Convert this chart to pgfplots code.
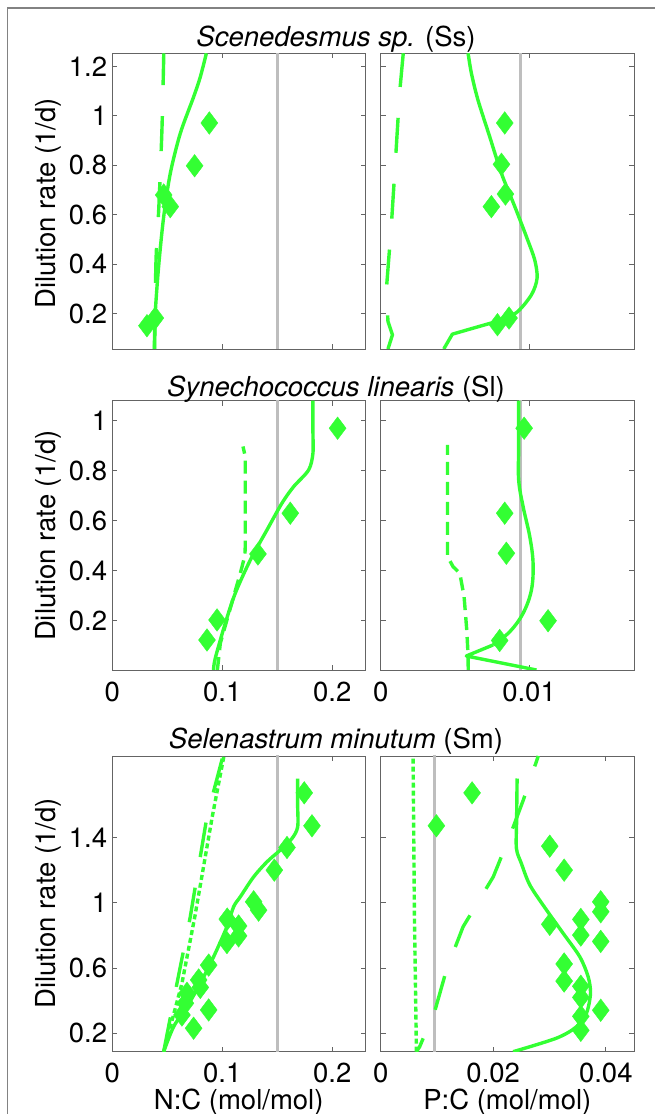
\documentclass[border=0pt]{standalone}
\usepackage{fontspec}
\setmainfont{TeX Gyre Heros}
\usepackage{pgfplots}
\pgfplotsset{compat=1.18}
\definecolor{grn}{RGB}{51,255,51}
\definecolor{gry}{RGB}{190,190,190}
\definecolor{frm}{RGB}{100,100,100}
\newcommand{\fs}{\fontsize{27.5}{33}\selectfont}
\pgfplotsset{
  panel/.style={
    scale only axis, anchor=south west, width=253.4pt,
    scaled ticks=false,
    axis line style={draw=frm, line width=0.9pt},
    tick style={draw=frm, line width=0.9pt},
    major tick length=5pt, tick align=inside,
    ticklabel style={font=\fs},
    yticklabel style={anchor=east, inner sep=0pt, xshift=-5pt},
    xticklabel style={anchor=north, inner sep=0pt, yshift=-11.5pt},
  },
  sol/.style={grn, line width=3.4pt, line join=round},
  lda/.style={grn, line width=3.4pt, dash pattern=on 35pt off 31pt},
  sda/.style={grn, line width=3.4pt, dash pattern=on 13pt off 7pt},
  dot/.style={grn, line width=3.4pt, dash pattern=on 5pt off 3pt},
  gl/.style={gry, line width=3pt},
  dia/.style={only marks, mark=diamond*, mark size=11.3pt, mark options={fill=grn, draw=grn, line width=0.4pt}},
}
\begin{document}
\begin{tikzpicture}[font=\fs]
\useasboundingbox (0pt,0pt) rectangle (655pt,1114pt);
\draw[draw={rgb,255:red,130;green,130;blue,130}, line width=1.2pt] (7.3pt,-20pt) -- (7.3pt,1106pt) -- (680pt,1106pt);

% ---------- Row 1: Scenedesmus ----------
\begin{axis}[panel, at={(112.3pt,765pt)}, height=295.7pt,
  xmin=0, xmax=0.23036, ymin=0.058, ymax=1.2525,
  xtick={0,0.1,0.2}, xticklabels={},
  ytick={0.2,0.4,0.6,0.8,1,1.2}, yticklabels={0.2,0.4,0.6,0.8,1,1.2}]
\addplot[gl] coordinates {(0.15,0) (0.15,2)};
\addplot[lda, smooth] coordinates {(0.0385,0.058) (0.0397,0.411) (0.0424,0.64) (0.0452,0.955) (0.0468,1.2525)};
\addplot[sol, smooth] coordinates {(0.0382,0.058) (0.039,0.2) (0.0421,0.391) (0.0467,0.592) (0.0527,0.767) (0.0618,0.929) (0.0739,1.076) (0.08,1.157) (0.0855,1.2525)};
\addplot[dia] coordinates {(0.0882,0.971) (0.0748,0.798) (0.0467,0.68) (0.0527,0.633) (0.0391,0.183) (0.0315,0.152)};
\end{axis}
\begin{axis}[panel, at={(380.7pt,765pt)}, height=295.7pt,
  xmin=0, xmax=0.01708, ymin=0.058, ymax=1.2525,
  xtick={0,0.01}, xticklabels={},
  ytick={0.2,0.4,0.6,0.8,1,1.2}, yticklabels={}]
\addplot[gl] coordinates {(0.00944,0) (0.00944,2)};
\addplot[lda] coordinates {(0.00049,0.058) (0.00079,0.115) (0.00049,0.169) (0.00038,0.297) (0.00072,0.559) (0.00101,0.834) (0.00128,1.096) (0.00152,1.2525)};
\addplot[sol] coordinates {(0.00425,0.058) (0.00483,0.118) (0.0078,0.169)};
\addplot[sol, smooth] coordinates {(0.0078,0.169) (0.00915,0.205) (0.01016,0.277) (0.01054,0.344) (0.01038,0.418) (0.00982,0.512) (0.00904,0.633) (0.00814,0.767) (0.00735,0.915) (0.00656,1.063) (0.00612,1.17) (0.00589,1.2525)};
\addplot[dia] coordinates {(0.00836,0.971) (0.00814,0.804) (0.00841,0.684) (0.00746,0.633) (0.00865,0.183) (0.00787,0.156)};
\end{axis}
\node[anchor=base] at (336pt,1067.3pt) {\textit{Scenedesmus sp.} (Ss)};
\node[rotate=90, anchor=base] at (55pt,910.5pt) {Dilution rate (1/d)};

% ---------- Row 2: Synechococcus ----------
\begin{axis}[panel, at={(112.3pt,444pt)}, height=269.3pt,
  xmin=0, xmax=0.23036, ymin=0.003, ymax=1.08,
  xtick={0,0.1,0.2}, xticklabels={0,0.1,0.2},
  ytick={0.2,0.4,0.6,0.8,1}, yticklabels={0.2,0.4,0.6,0.8,1}]
\addplot[gl] coordinates {(0.15,-1) (0.15,2)};
\addplot[sda] coordinates {(0.0955,0.003) (0.0982,0.11) (0.1042,0.203) (0.1103,0.297) (0.1164,0.39) (0.1205,0.46) (0.1209,0.5) (0.1209,0.856) (0.1188,0.897)};
\addplot[sol, smooth, tension=0.5] coordinates {(0.0920,0.003) (0.0936,0.05) (0.1027,0.19) (0.1118,0.31) (0.1255,0.443) (0.1406,0.563) (0.1542,0.67) (0.1648,0.736) (0.1785,0.803) (0.1824,0.87) (0.1824,0.95) (0.1824,1.08)};
\addplot[dia] coordinates {(0.1618,0.63) (0.1324,0.467) (0.0952,0.203) (0.0861,0.123) (0.2048,0.97)};
\end{axis}
\begin{axis}[panel, at={(380.7pt,444pt)}, height=269.3pt,
  xmin=0, xmax=0.01708, ymin=0.003, ymax=1.08,
  xtick={0,0.01}, xticklabels={0,0.01},
  ytick={0.2,0.4,0.6,0.8,1}, yticklabels={}]
\addplot[gl] coordinates {(0.00944,-1) (0.00944,2)};
\addplot[sda] coordinates {(0.0059,0.003) (0.00589,0.063) (0.0058,0.163) (0.00562,0.297) (0.00533,0.39) (0.00488,0.416) (0.0045,0.457) (0.0045,0.903)};
\addplot[sol] coordinates {(0.0105,0.003) (0.00577,0.059) (0.00757,0.103)};
\addplot[sol, smooth, tension=0.6] coordinates {(0.00757,0.103) (0.0087,0.156) (0.0096,0.23) (0.01016,0.323) (0.01027,0.43) (0.01005,0.536) (0.0096,0.656) (0.0093,0.763) (0.0093,0.9) (0.0093,1.08)};
\addplot[dia] coordinates {(0.00967,0.97) (0.00836,0.63) (0.00847,0.47) (0.01128,0.2) (0.00802,0.121)};
\end{axis}
\node[anchor=base] at (336pt,717.3pt) {\textit{Synechococcus linearis} (Sl)};
\node[rotate=90, anchor=base] at (55pt,578.3pt) {Dilution rate (1/d)};

% ---------- Row 3: Selenastrum ----------
\begin{axis}[panel, at={(112.3pt,62.3pt)}, height=295.7pt,
  xmin=0, xmax=0.23036, ymin=0.087, ymax=1.9,
  xtick={0,0.1,0.2}, xticklabels={0,0.1,0.2},
  ytick={0.2,0.6,1,1.4}, yticklabels={0.2,0.6,1,1.4}]
\addplot[gl] coordinates {(0.15,-1) (0.15,3)};
\addplot[lda] coordinates {(0.0467,0.087) (0.0588,0.506) (0.0709,0.914) (0.0861,1.529) (0.1006,1.9)};
\addplot[dot] coordinates {(0.0467,0.087) (0.0633,0.506) (0.0750,0.914) (0.0909,1.529) (0.1015,1.9)};
\addplot[sol, smooth] coordinates {(0.0467,0.087) (0.0558,0.241) (0.0679,0.363) (0.08,0.506) (0.0921,0.669) (0.1042,0.853) (0.1103,0.976) (0.1164,1.037) (0.1285,1.159) (0.1406,1.251) (0.1527,1.323) (0.1633,1.394) (0.1685,1.465) (0.1685,1.6) (0.1685,1.762)};
\addplot[dia] coordinates {(0.1745,1.674) (0.1815,1.472) (0.1588,1.339) (0.1473,1.2) (0.1285,1.006) (0.133,0.955) (0.1045,0.9) (0.1148,0.858) (0.1148,0.797) (0.1042,0.756) (0.0876,0.618) (0.0785,0.527) (0.08,0.481) (0.0679,0.445) (0.0664,0.384) (0.0876,0.343) (0.0633,0.312) (0.0739,0.231)};
\end{axis}
\begin{axis}[panel, at={(380.7pt,62.3pt)}, height=295.7pt,
  xmin=0, xmax=0.04503, ymin=0.087, ymax=1.9,
  xtick={0,0.02,0.04}, xticklabels={0,0.02,0.04},
  ytick={0.2,0.6,1,1.4}, yticklabels={}]
\addplot[gl] coordinates {(0.00948,-1) (0.00948,3)};
\addplot[dot] coordinates {(0.00635,0.087) (0.006,0.9) (0.00575,1.9)};
\addplot[lda, dash phase=20pt] coordinates {(0.00635,0.087) (0.00693,0.118) (0.00967,0.343) (0.01168,0.588) (0.01464,0.853) (0.02,1.159) (0.02323,1.435) (0.02533,1.629) (0.028,1.9)};
\addplot[sol, smooth, tension=0.5] coordinates {(0.02353,0.087) (0.03124,0.17) (0.03479,0.24) (0.03657,0.323) (0.03728,0.445) (0.03686,0.547) (0.03538,0.669) (0.03244,0.812) (0.02948,0.955) (0.02652,1.108) (0.025,1.241) (0.02412,1.333) (0.02415,1.5) (0.02424,1.762)};
\addplot[dia] coordinates {(0.01624,1.674) (0.0099,1.472) (0.03004,1.347) (0.0326,1.2) (0.0391,1.006) (0.0391,0.945) (0.03004,0.868) (0.03556,0.898) (0.03556,0.802) (0.0391,0.763) (0.0326,0.625) (0.0326,0.52) (0.03556,0.488) (0.03556,0.42) (0.0391,0.341) (0.03556,0.304) (0.03556,0.218)};
\end{axis}
\node[anchor=base] at (336pt,365pt) {\textit{Selenastrum minutum} (Sm)};
\node[rotate=90, anchor=base] at (55pt,210.7pt) {Dilution rate (1/d)};
\node[anchor=base] at (238.7pt,4.7pt) {N:C (mol/mol)};
\node[anchor=base] at (507.3pt,4.7pt) {P:C (mol/mol)};
\end{tikzpicture}
\end{document}
